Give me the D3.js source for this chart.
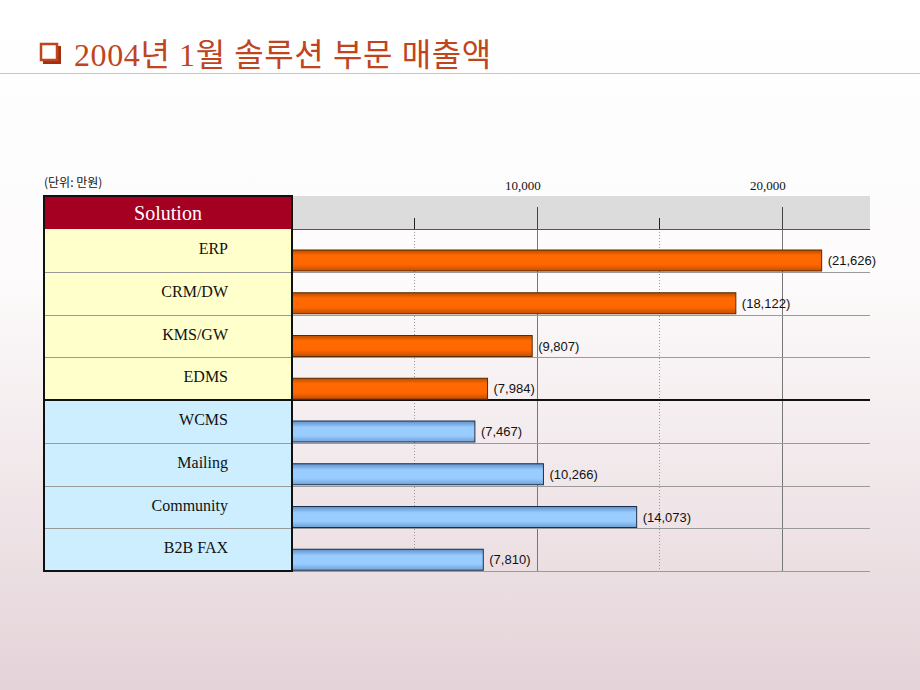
<!DOCTYPE html>
<html><head><meta charset="utf-8">
<script src="https://cdn.jsdelivr.net/npm/d3@7"></script>
<style>body{margin:0;padding:0;}svg{display:block;}</style>
</head><body>
<script>
const titleText = "2004년 1월 솔루션 부문 매출액";
const unitText = "(단위: 만원)";
const headerText = "Solution";
const categories = ["ERP","CRM/DW","KMS/GW","EDMS","WCMS","Mailing","Community","B2B FAX"];
const values = [21626,18122,9807,7984,7467,10266,14073,7810];
const groups = ["core","core","core","core","web","web","web","web"];
const majorTicks = [10000,20000];
const minorTicks = [5000,15000];

const W=920,H=690;
const svg=d3.select("body").append("svg").attr("width",W).attr("height",H);
const defs=svg.append("defs");
const bg=defs.append("linearGradient").attr("id","bg").attr("x1",0).attr("y1",0).attr("x2",0).attr("y2",1);
bg.append("stop").attr("offset","0%").attr("stop-color","#ffffff");
bg.append("stop").attr("offset","40%").attr("stop-color","#fdfbfb");
bg.append("stop").attr("offset","100%").attr("stop-color","#e4d3d8");
svg.append("rect").attr("width",W).attr("height",H).attr("fill","url(#bg)");

const og=defs.append("linearGradient").attr("id","gOrange").attr("x1",0).attr("y1",0).attr("x2",0).attr("y2",1);
og.append("stop").attr("offset","0%").attr("stop-color","#b84a00");
og.append("stop").attr("offset","25%").attr("stop-color","#ff6a00");
og.append("stop").attr("offset","70%").attr("stop-color","#ff6600");
og.append("stop").attr("offset","100%").attr("stop-color","#c04f00");
const bgr=defs.append("linearGradient").attr("id","gBlue").attr("x1",0).attr("y1",0).attr("x2",0).attr("y2",1);
bgr.append("stop").attr("offset","0%").attr("stop-color","#5f8fc8");
bgr.append("stop").attr("offset","30%").attr("stop-color","#99ccff");
bgr.append("stop").attr("offset","70%").attr("stop-color","#99ccff");
bgr.append("stop").attr("offset","100%").attr("stop-color","#6f9fd6");

// Title
svg.append("rect").attr("x",43).attr("y",46).attr("width",18).attr("height",18).attr("fill","#a03010");
svg.append("rect").attr("x",41).attr("y",44).attr("width",16).attr("height",16).attr("fill","#fff").attr("stroke","#c0441c").attr("stroke-width",2.5);
svg.append("text").attr("x",74).attr("y",66).attr("font-family","'Liberation Serif','Noto Sans CJK KR',serif")
  .attr("font-size",32).attr("letter-spacing",0.6).attr("fill","#c0441c").text(titleText);
svg.append("line").attr("x1",0).attr("x2",W).attr("y1",73.5).attr("y2",73.5).attr("stroke","#c8c8c8").attr("stroke-width",1);

svg.append("text").attr("x",44).attr("y",187).attr("font-family","'Noto Sans CJK KR',sans-serif").attr("font-size",12).attr("fill","#111").text(unitText);

const left=44, split=292, right=870, headTop=196, headBot=229, bottom=571;
const x=d3.scaleLinear().domain([0,23600]).range([split,right]);
const y=d3.scaleBand().domain(categories).range([headBot,bottom]).padding(0);

// Left cells
svg.append("rect").attr("x",left).attr("y",headTop).attr("width",split-left).attr("height",headBot-headTop).attr("fill","#a50021");
svg.append("text").attr("x",(left+split)/2).attr("y",220).attr("text-anchor","middle")
  .attr("font-family","'Liberation Serif',serif").attr("font-size",20).attr("fill","#fff").text(headerText);
svg.selectAll("rect.cell").data(categories).enter().append("rect")
  .attr("x",left).attr("y",d=>y(d)).attr("width",split-left).attr("height",y.bandwidth())
  .attr("fill",(d,i)=>groups[i]==="core"?"#ffffcc":"#cceeff");
svg.selectAll("text.cat").data(categories).enter().append("text")
  .attr("x",228).attr("y",d=>y(d)+25).attr("text-anchor","end")
  .attr("font-family","'Liberation Serif',serif").attr("font-size",16).attr("fill","#111").text(d=>d);

// Gray header band
svg.append("rect").attr("x",split).attr("y",headTop).attr("width",right-split).attr("height",headBot-headTop).attr("fill","#dcdcdc");

// gridlines
svg.selectAll("line.minor").data(minorTicks).enter().append("line")
  .attr("x1",d=>Math.round(x(d))+0.5).attr("x2",d=>Math.round(x(d))+0.5).attr("y1",headBot).attr("y2",bottom)
  .attr("stroke","#999").attr("stroke-dasharray","1,2");
svg.selectAll("line.major").data(majorTicks).enter().append("line")
  .attr("x1",d=>Math.round(x(d))+0.5).attr("x2",d=>Math.round(x(d))+0.5).attr("y1",headBot).attr("y2",bottom)
  .attr("stroke","#777");
// ticks in header
svg.selectAll("line.mt").data(majorTicks).enter().append("line")
  .attr("x1",d=>Math.round(x(d))+0.5).attr("x2",d=>Math.round(x(d))+0.5).attr("y1",207).attr("y2",headBot)
  .attr("stroke","#444");
svg.selectAll("line.nt").data(minorTicks).enter().append("line")
  .attr("x1",d=>Math.round(x(d))+0.5).attr("x2",d=>Math.round(x(d))+0.5).attr("y1",218).attr("y2",headBot)
  .attr("stroke","#222");
svg.selectAll("text.tick").data(majorTicks).enter().append("text")
  .attr("x",d=>x(d)-14).attr("y",190).attr("text-anchor","middle")
  .attr("font-family","'Liberation Serif',serif").attr("font-size",13).attr("fill","#111").text(d3.format(","));

// row separators
svg.selectAll("line.sep").data(categories).enter().append("line")
  .attr("x1",left).attr("x2",right).attr("y1",d=>Math.round(y(d)+y.bandwidth())+0.5).attr("y2",d=>Math.round(y(d)+y.bandwidth())+0.5)
  .attr("stroke","#9a9a9a");
svg.append("line").attr("x1",split).attr("x2",right).attr("y1",headBot+0.5).attr("y2",headBot+0.5).attr("stroke","#555");
// group separator
svg.append("line").attr("x1",left).attr("x2",right).attr("y1",Math.round(y(categories[4]))).attr("y2",Math.round(y(categories[4]))).attr("stroke","#111").attr("stroke-width",2);

// bars
svg.selectAll("rect.bar").data(categories).enter().append("rect")
  .attr("x",split).attr("y",d=>y(d)+21).attr("width",(d,i)=>x(values[i])-split).attr("height",21)
  .attr("fill",(d,i)=>groups[i]==="core"?"url(#gOrange)":"url(#gBlue)")
  .attr("stroke",(d,i)=>groups[i]==="core"?"#5a2a00":"#1a2f4a").attr("stroke-width",1);
svg.selectAll("text.val").data(categories).enter().append("text")
  .attr("x",(d,i)=>x(values[i])+6).attr("y",d=>y(d)+36)
  .attr("font-family","'Liberation Sans',Arial,sans-serif").attr("font-size",13).attr("fill","#111")
  .text((d,i)=>"("+d3.format(",")(values[i])+")");

// left box border
svg.append("rect").attr("x",left).attr("y",headTop).attr("width",split-left).attr("height",bottom-headTop)
  .attr("fill","none").attr("stroke","#111").attr("stroke-width",2);
</script>
</body></html>
